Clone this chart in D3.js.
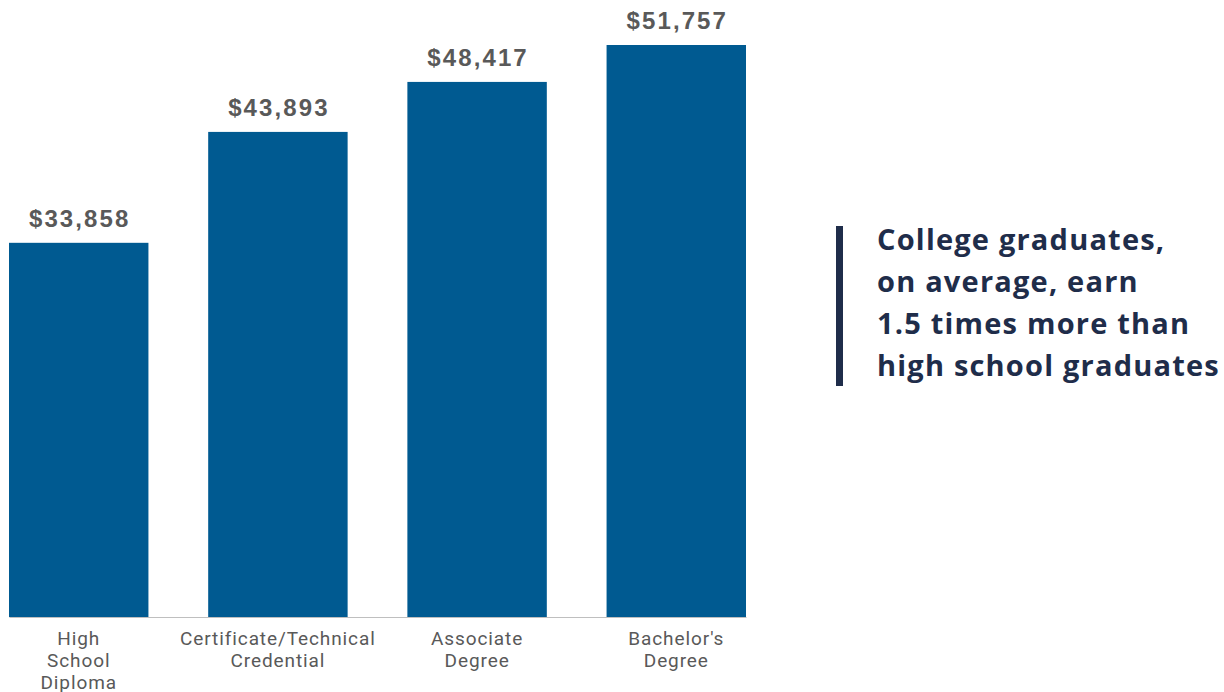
<!DOCTYPE html>
<html>
<head>
<meta charset="utf-8">
<script src="https://cdn.jsdelivr.net/npm/d3@7"></script>
<style>
  html, body { margin: 0; padding: 0; background: #ffffff; }
  svg { display: block; }
</style>
</head>
<body>
<svg id="chart" width="1224" height="692"></svg>
<script>
const categories = [
  ["High", "School", "Diploma"],
  ["Certificate/Technical", "Credential"],
  ["Associate", "Degree"],
  ["Bachelor's", "Degree"]
];
const categoryKeys = ["High School Diploma", "Certificate/Technical Credential", "Associate Degree", "Bachelor's Degree"];
const earnings = [33858, 43893, 48417, 51757];
const annotationLines = [
  "College graduates,",
  "on average, earn",
  "1.5 times more than",
  "high school graduates"
];

const svg = d3.select("#chart");

const x = d3.scaleBand()
  .domain(categoryKeys)
  .range([9, 746])
  .paddingInner(0.3)
  .paddingOuter(0);

const y = d3.scaleLinear()
  .domain([0, d3.max(earnings)])
  .range([617, 45]);

const data = categoryKeys.map((k, i) => ({ key: k, lines: categories[i], value: earnings[i] }));

// bars
svg.append("g")
  .selectAll("rect")
  .data(data)
  .join("rect")
  .attr("x", d => x(d.key))
  .attr("y", d => y(d.value))
  .attr("width", x.bandwidth())
  .attr("height", d => y(0) - y(d.value))
  .attr("fill", "#005a91");

// baseline axis
const axis = svg.append("g")
  .attr("transform", `translate(0,${y(0)})`)
  .call(d3.axisBottom(x).tickSize(0).tickFormat(""));
axis.select(".domain").attr("stroke", "#bfbfbf").attr("stroke-width", 1.2);

// category labels
const fmt = d3.format(",");
svg.append("g")
  .selectAll("text")
  .data(data)
  .join("text")
  .attr("x", d => x(d.key) + x.bandwidth() / 2)
  .attr("y", 645)
  .attr("text-anchor", "middle")
  .attr("font-family", "Roboto, 'Liberation Sans', Arial, sans-serif")
  .attr("font-size", 19)
  .attr("letter-spacing", 0.9)
  .attr("fill", "#595959")
  .each(function(d) {
    const t = d3.select(this);
    d.lines.forEach((ln, i) => {
      t.append("tspan")
        .attr("x", x(d.key) + x.bandwidth() / 2)
        .attr("dy", i === 0 ? 0 : 22)
        .text(ln);
    });
  });

// value labels
svg.append("g")
  .selectAll("text")
  .data(data)
  .join("text")
  .attr("x", d => x(d.key) + x.bandwidth() / 2 + 1)
  .attr("y", d => y(d.value) - 16)
  .attr("text-anchor", "middle")
  .attr("font-family", "'Liberation Sans', Arial, sans-serif")
  .attr("font-weight", "bold")
  .attr("font-size", 24)
  .attr("letter-spacing", 2.1)
  .attr("fill", "#595959")
  .text(d => "$" + fmt(d.value));

// annotation
svg.append("rect")
  .attr("x", 836)
  .attr("y", 226)
  .attr("width", 7)
  .attr("height", 160)
  .attr("fill", "#1f2d4a");

svg.append("g")
  .selectAll("text")
  .data(annotationLines)
  .join("text")
  .attr("x", 877)
  .attr("y", (d, i) => 250 + i * 42)
  .attr("font-family", "'Open Sans', 'Noto Sans', sans-serif")
  .attr("font-weight", "bold")
  .attr("font-size", 29)
  .attr("letter-spacing", 1.2)
  .attr("fill", "#1f2d4a")
  .text(d => d);
</script>
</body>
</html>
